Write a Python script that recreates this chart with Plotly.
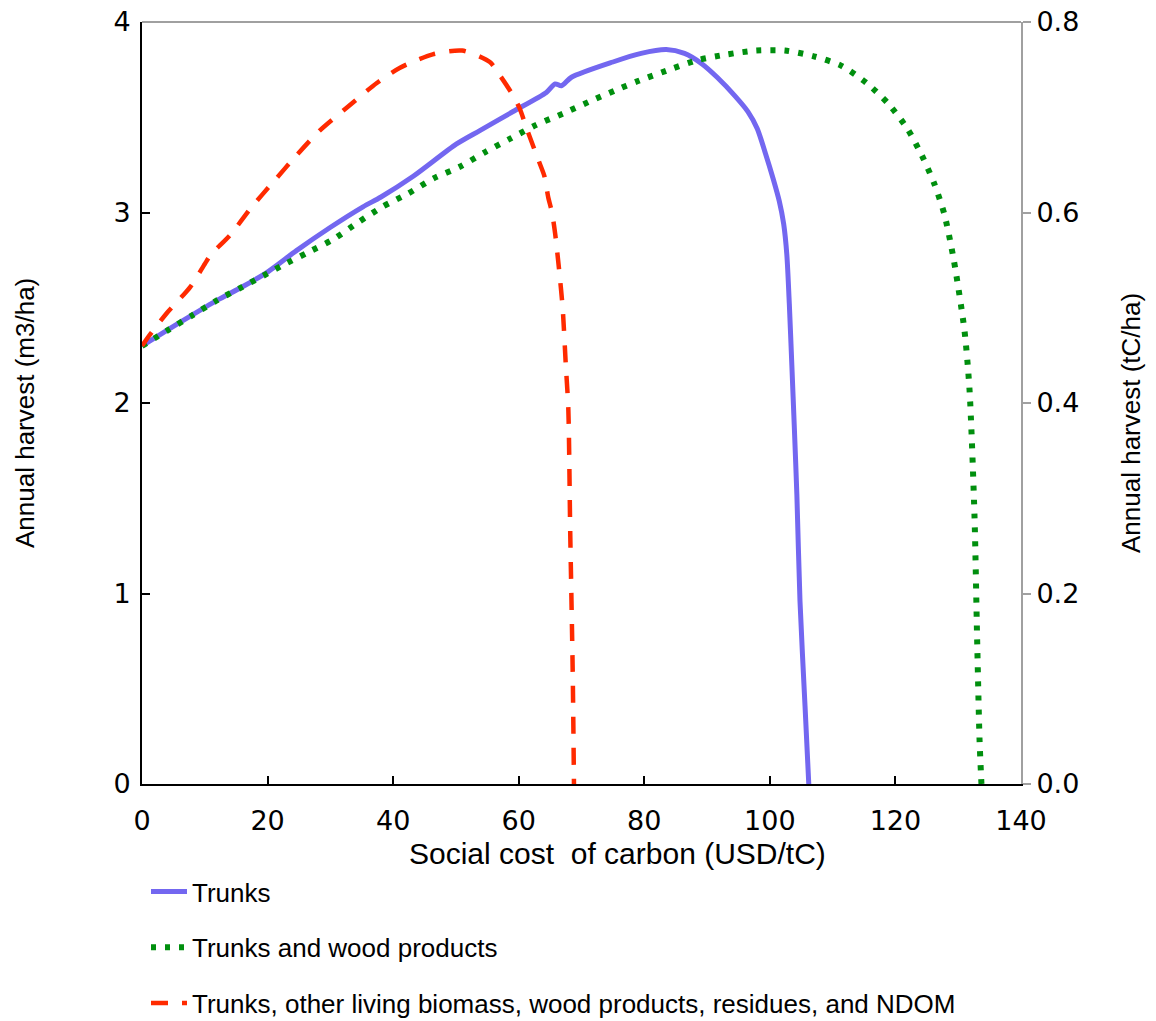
import plotly.graph_objects as go

# ---- data ----
trunks_x = [0, 3.9, 7.9, 12, 16, 20.1, 24.6, 29.9, 35.2, 38, 43.2, 50.1, 53.8, 59.1, 64.4,
            65.8, 66.8, 68.4, 75, 79.5, 83.5, 86.4, 89.2, 91.6, 94.5, 96.5, 98.0, 99.3, 100.5,
            101.5, 102.2, 102.7, 103.1, 103.5, 103.9, 104.3, 104.8, 105.6, 106.2]
trunks_y = [2.30, 2.38, 2.46, 2.54, 2.61, 2.69, 2.80, 2.92, 3.03, 3.08, 3.19, 3.36, 3.43, 3.53, 3.63,
            3.675, 3.665, 3.71, 3.79, 3.835, 3.855, 3.835, 3.78, 3.71, 3.61, 3.53, 3.44, 3.31, 3.18,
            3.06, 2.94, 2.78, 2.52, 2.20, 1.87, 1.52, 0.96, 0.41, 0.0]

wood_x = [0, 4, 8, 12, 16, 20, 22.2, 26.4, 30.5, 34.5, 38.3, 42.4, 46.5, 50.6, 54.8, 58.8,
          62.8, 67.1, 71.1, 75.3, 79, 84, 88.5, 93.2, 97.8, 102.4, 107, 111.4, 115.4, 118.9,
          121.9, 124.2, 126.2, 127.8, 129.3, 131.0, 131.8, 132.6, 133.0, 133.4, 133.7]
wood_y = [2.30, 2.38, 2.46, 2.54, 2.61, 2.68, 2.72, 2.79, 2.86, 2.95, 3.03, 3.10, 3.18, 3.24, 3.32, 3.39,
          3.46, 3.52, 3.58, 3.64, 3.69, 3.75, 3.80, 3.83, 3.85, 3.85, 3.82, 3.77, 3.68, 3.57,
          3.44, 3.30, 3.15, 2.99, 2.75, 2.38, 2.07, 1.40, 0.78, 0.23, 0.0]

all_x = [0, 1.3, 3.9, 7.7, 10, 11, 14, 17.5, 20.9, 24.6, 28.3, 32.6, 37.4, 41.1, 46.3, 51, 55.4,
         57, 59, 60.1, 61.5, 63.2, 64.1, 64.7, 65.3, 65.8, 66.4, 67.0, 67.5, 67.9, 68.2, 68.6, 68.8]
all_y = [2.30, 2.36, 2.47, 2.61, 2.73, 2.78, 2.88, 3.03, 3.16, 3.30, 3.43, 3.55, 3.68, 3.76, 3.83, 3.85, 3.79,
         3.72, 3.62, 3.55, 3.42, 3.27, 3.19, 3.08, 3.00, 2.89, 2.71, 2.50, 2.20, 1.97, 1.33, 0.59, 0.0]

series_names = ["Trunks", "Trunks and wood products",
                "Trunks, other living biomass, wood products, residues, and NDOM"]

x_ticks = [0, 20, 40, 60, 80, 100, 120, 140]
y_ticks = [0, 1, 2, 3, 4]
y2_ticks = [0.0, 0.2, 0.4, 0.6, 0.8]
y2_labels = ["0.0", "0.2", "0.4", "0.6", "0.8"]

x_title = "Social cost  of carbon (USD/tC)"
y_title = "Annual harvest (m3/ha)"
y2_title = "Annual harvest (tC/ha)"

TXT = "Liberation Sans, Arial, sans-serif"
TICK = "DejaVu Sans, Verdana, sans-serif"

W, H = 1156, 1021
L, R, T, B = 142, 135, 22, 237
PW, PH = W - L - R, H - T - B

fig = go.Figure()
fig.add_trace(go.Scatter(x=trunks_x, y=trunks_y, mode="lines", name=series_names[0],
                         legendgroup="a",
                         line=dict(color="#7367F0", width=5, shape="spline", smoothing=0.7)))
fig.add_trace(go.Scatter(x=wood_x, y=wood_y, mode="lines", name=series_names[1],
                         legendgroup="b",
                         line=dict(color="#008F0E", width=6, dash="5px,9px",
                                   shape="spline", smoothing=0.7)))
fig.add_trace(go.Scatter(x=all_x, y=all_y, mode="lines", name=series_names[2],
                         legendgroup="c",
                         line=dict(color="#FF2A00", width=4.5, dash="17px,14px",
                                   shape="spline", smoothing=0.7)))
# invisible trace to carry the right-hand axis
fig.add_trace(go.Scatter(x=[0], y=[0], yaxis="y2", mode="lines", showlegend=False,
                         hoverinfo="skip", line=dict(color="rgba(0,0,0,0)")))


def px_x(p):
    return (p - L) / PW


def px_y(p):
    return (H - B - p) / PH


fig.update_layout(
    width=W, height=H,
    margin=dict(l=L, r=R, t=T, b=B, autoexpand=False),
    paper_bgcolor="white", plot_bgcolor="white",
    font=dict(family=TXT, size=26, color="black"),
    xaxis=dict(range=[0, 140], tickvals=x_ticks, showgrid=False, zeroline=False,
               showline=True, linecolor="black", linewidth=2,
               ticks="inside", ticklen=8, tickwidth=2, tickcolor="black",
               tickfont=dict(family=TICK, size=27), ticklabelstandoff=12),
    yaxis=dict(range=[0, 4], tickvals=y_ticks, showgrid=False, zeroline=False,
               showline=True, linecolor="black", linewidth=2,
               ticks="inside", ticklen=8, tickwidth=2, tickcolor="black",
               tickfont=dict(family=TICK, size=27), ticklabelstandoff=4),
    yaxis2=dict(range=[0, 0.8], tickvals=y2_ticks, ticktext=y2_labels, overlaying="y",
                side="right", showgrid=False, zeroline=False,
                showline=True, linecolor="#A0A0A0", linewidth=2,
                ticks="outside", ticklen=8, tickwidth=2, tickcolor="#A0A0A0",
                tickfont=dict(family=TICK, size=27)),
    shapes=[dict(type="line", xref="paper", yref="paper", x0=0, x1=1, y0=1, y1=1,
                 line=dict(color="#A0A0A0", width=2))],
    annotations=[
        dict(text=x_title, xref="paper", yref="paper", x=px_x(617), y=px_y(853),
             showarrow=False, xanchor="center", yanchor="middle",
             font=dict(family=TXT, size=30)),
        dict(text=y_title, xref="paper", yref="paper", x=px_x(25), y=px_y(413),
             showarrow=False, xanchor="center", yanchor="middle", textangle=-90,
             font=dict(family=TXT, size=26)),
        dict(text=y2_title, xref="paper", yref="paper", x=px_x(1131), y=px_y(423),
             showarrow=False, xanchor="center", yanchor="middle", textangle=-90,
             font=dict(family=TXT, size=26)),
    ],
    legend=dict(x=146 / W, xref="container", y=(H - 868) / H, yref="container",
                xanchor="left", yanchor="top", bgcolor="rgba(0,0,0,0)",
                traceorder="grouped", tracegroupgap=19, itemwidth=36,
                font=dict(family=TXT, size=26)),
    showlegend=True,
)

fig.write_html("out.html")
